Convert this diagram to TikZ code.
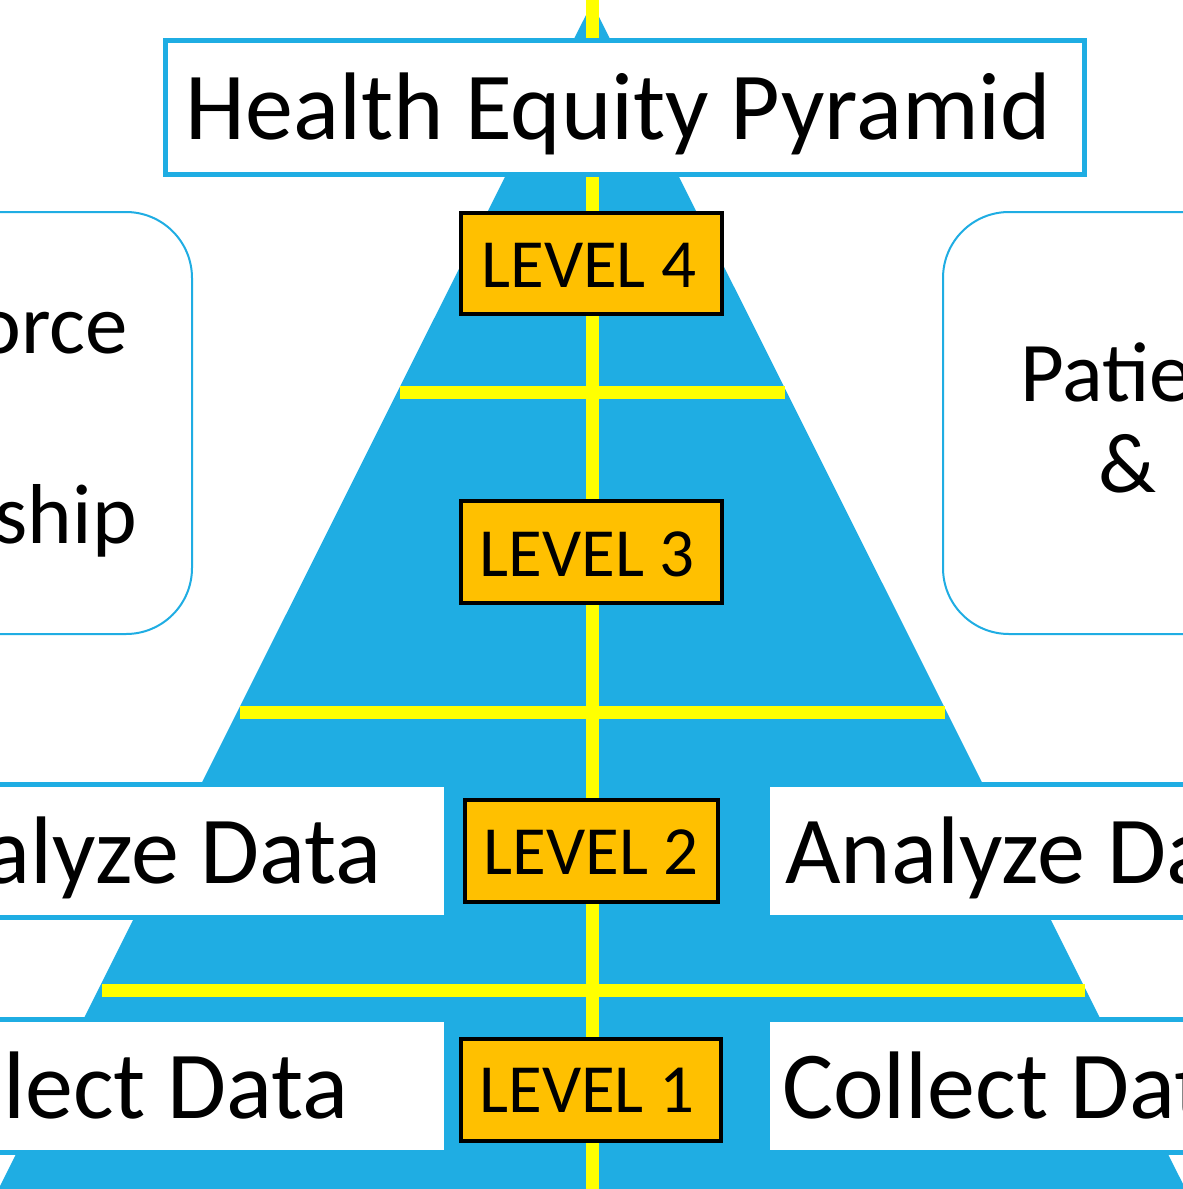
\documentclass[tikz,border=0pt]{standalone}
\usepackage{fontspec}
\setmainfont{Carlito}
\definecolor{pyr}{RGB}{31,173,227}
\definecolor{lvl}{RGB}{255,192,0}
\definecolor{yel}{RGB}{255,255,0}
\begin{document}
\begin{tikzpicture}[x=1pt,y=-1pt,
  lvlbox/.style={draw=black,line width=4pt,fill=lvl,inner sep=0pt,minimum height=102pt},
  lvltxt/.style={inner sep=0pt,anchor=base,font=\fontsize{69}{80}\selectfont},
  band/.style={draw=pyr,line width=5pt,fill=white},
  sidebox/.style={draw=pyr,line width=2pt,fill=white,rounded corners=66pt},
  bigtxt/.style={inner sep=0pt,font=\fontsize{96}{110}\selectfont},
  midtxt/.style={inner sep=0pt,font=\fontsize{85}{95}\selectfont},
  yline/.style={draw=yel,line width=13pt}]
\useasboundingbox (0,0) rectangle (1183,1189);
\fill[white] (0,0) rectangle (1183,1189);
\begin{scope}
\clip (0,0) rectangle (1183,1189);
% pyramid
\fill[pyr] (592,3) -- (-2,1190) -- (1186,1190) -- cycle;
% yellow dividers
\draw[yline] (592,-5) -- (592,1195);
\draw[yline] (400,392) -- (785,392);
\draw[yline] (240,712) -- (945,712);
\draw[yline] (102,990) -- (1085,990);
% title box
\node[draw=pyr,line width=5pt,fill=white,inner sep=0pt,minimum width=919pt,minimum height=133.5pt] (titlebox) at (625,107.25) {};
\node[bigtxt,anchor=base] (title) at (618.5,139) {Health Equity Pyramid};
% side rounded boxes
\draw[sidebox] (-200,212) rectangle (192,634);
\draw[sidebox] (943,212) rectangle (1400,634);
\node[midtxt,anchor=base east] (lefta) at (128,353) {orce};
\node[midtxt,anchor=base east] (leftb) at (137,543) {ship};
\node[midtxt,anchor=base west] (righta) at (1020,401) {Patie};
\node[midtxt,anchor=base] (rightb) at (1127,492) {\&};
% data bands
\draw[band] (-50,784.5) rectangle (446.5,917.5);
\draw[band] (767.5,784.5) rectangle (1250,917.5);
\draw[band] (-50,1019.5) rectangle (446.5,1152.5);
\draw[band] (767.5,1019.5) rectangle (1250,1152.5);
\node[bigtxt,anchor=base east] (anl) at (382,883) {alyze Data};
\node[bigtxt,anchor=base west] (anr) at (785,883) {Analyze Da};
\node[bigtxt,anchor=base east] (col) at (349,1118) {lect Data};
\node[bigtxt,anchor=base west] (cor) at (782,1118) {Collect Dat};
% level boxes
\node[lvlbox,minimum width=261pt,minimum height=101pt] (l4box) at (591.5,263.5) {};
\node[lvlbox,minimum width=261pt] (l3box) at (591.5,552) {};
\node[lvlbox,minimum width=253pt] (l2box) at (591.5,851) {};
\node[lvlbox,minimum width=260pt] (l1box) at (591,1090) {};
\node[lvltxt] (l4) at (589,287) {LEVEL 4};
\node[lvltxt] (l3) at (587.5,576) {LEVEL 3};
\node[lvltxt] (l2) at (591.5,874) {LEVEL 2};
\node[lvltxt] (l1) at (587,1112.5) {LEVEL 1};
\end{scope}
\end{tikzpicture}
\end{document}
